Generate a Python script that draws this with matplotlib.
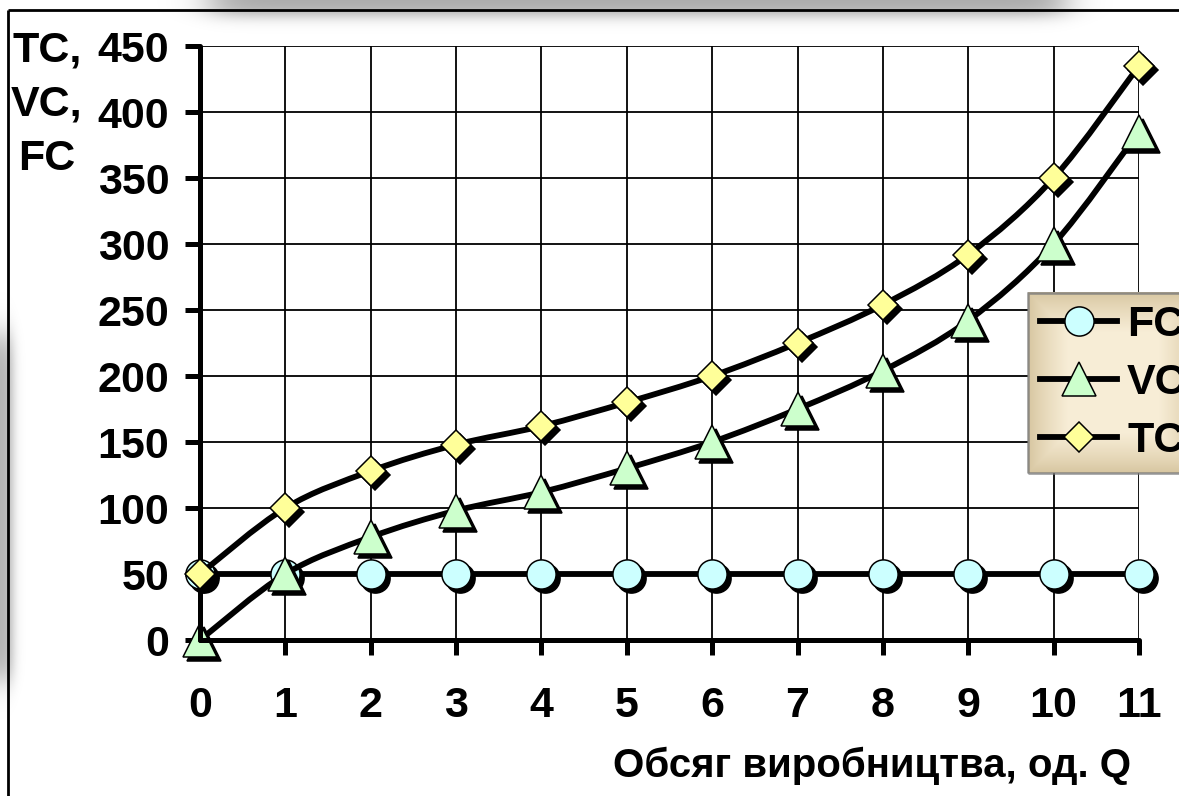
import numpy as np
import matplotlib
matplotlib.use('Agg')
import matplotlib.pyplot as plt
from matplotlib.path import Path
from matplotlib.patches import PathPatch
from matplotlib.lines import Line2D
from matplotlib.transforms import ScaledTranslation, IdentityTransform

# ---------------- data ----------------
q = [0, 1, 2, 3, 4, 5, 6, 7, 8, 9, 10, 11]
fc = [50, 50, 50, 50, 50, 50, 50, 50, 50, 50, 50, 50]
vc = [0, 50, 78, 98, 112, 130, 150, 175, 204, 242, 300, 385]
tc = [50, 100, 128, 148, 162, 180, 200, 225, 254, 292, 350, 435]
y_ticks = [0, 50, 100, 150, 200, 250, 300, 350, 400, 450]
x_ticks = [0, 1, 2, 3, 4, 5, 6, 7, 8, 9, 10, 11]
series_names = ['FC', 'VC', 'TC']
y_label = 'TC,\nVC,\nFC'
x_label = 'Обсяг виробництва, од. Q'

plt.rcParams['font.family'] = ['Liberation Sans', 'DejaVu Sans']
plt.rcParams['font.weight'] = 'bold'
FS = 31

W, H = 1179, 796
fig = plt.figure(figsize=(W / 100, H / 100), dpi=100)
fig.patch.set_facecolor('white')

# ---------------- background: frame + slide shadows ----------------
bg = fig.add_axes([0, 0, 1, 1], zorder=0)
bg.set_xlim(0, W)
bg.set_ylim(H, 0)
bg.axis('off')
xx, yy = np.meshgrid(np.arange(W) + 0.5, np.arange(H) + 0.5)
a_top = 0.33 * 0.5 * (np.tanh((xx - 210) / 24) - np.tanh((xx - 1065) / 22)) \
    * 0.5 * (1 - np.tanh((yy - 16) / 8))
a_left = 0.30 * 0.5 * (1 - np.tanh((xx - 13) / 6)) \
    * 0.5 * (np.tanh((yy - 335) / 20) - np.tanh((yy - 680) / 18))
alpha = 1 - (1 - a_top) * (1 - a_left)
shadow = np.zeros((H, W, 4))
shadow[..., 3] = np.clip(alpha, 0, 1)
bg.imshow(shadow, extent=(0, W, H, 0), aspect='auto', interpolation='bilinear')
bg.plot([8, 8], [10, H + 5], color='black', lw=2.0, solid_capstyle='butt')
bg.plot([8, W + 5], [10, 10], color='black', lw=2.0, solid_capstyle='butt')
bg.set_xlim(0, W)
bg.set_ylim(H, 0)

# ---------------- main axes ----------------
ax = fig.add_axes([200 / W, 1 - 640 / H, 939 / W, 594 / H], zorder=1)
ax.patch.set_visible(False)
ax.set_xlim(0, 11)
ax.set_ylim(0, 450)
ax.set_xticks(x_ticks)
ax.set_yticks(y_ticks)
ax.grid(True, color='black', lw=1.3)
for s in ['top', 'right']:
    ax.spines[s].set_visible(False)
for s in ['left', 'bottom']:
    ax.spines[s].set_linewidth(3.6)
    ax.spines[s].set_capstyle('round')
ax.tick_params(axis='both', direction='out', length=11, width=3.6, labelsize=FS)
ax.tick_params(axis='y', pad=11)
ax.tick_params(axis='x', pad=22)


def smooth_path(xs, ys):
    P = np.column_stack([xs, ys]).astype(float)
    n = len(P)
    verts = [P[0]]
    codes = [Path.MOVETO]
    for i in range(n - 1):
        p0 = P[i - 1] if i > 0 else P[i]
        p1 = P[i]
        p2 = P[i + 1]
        p3 = P[i + 2] if i + 2 < n else P[i + 1]
        verts += [p1 + (p2 - p0) / 6.0, p2 - (p3 - p1) / 6.0, p2]
        codes += [Path.CURVE4] * 3
    return Path(verts, codes)


styles = [
    dict(marker='o', ms=21, mfc='#CCFFFF'),
    dict(marker='^', ms=24, mfc='#CCFFCC'),
    dict(marker='D', ms=15.5, mfc='#FFFF99'),
]
shadow_tr = ax.transData + ScaledTranslation(4 / 100, -4 / 100, fig.dpi_scale_trans)
handles = []
for k, (vals, st) in enumerate(zip([fc, vc, tc], styles)):
    z = 2 + k * 0.3
    patch = PathPatch(smooth_path(q, vals), fill=False, edgecolor='black', lw=4.2,
                      zorder=z, clip_on=False, capstyle='round', joinstyle='round')
    ax.add_patch(patch)
    ax.plot(q, vals, linestyle='none', marker=st['marker'], ms=st['ms'], mfc='black',
            mec='black', mew=1.1, transform=shadow_tr, zorder=z + 0.1, clip_on=False)
    ax.plot(q, vals, linestyle='none', marker=st['marker'], ms=st['ms'], mfc=st['mfc'],
            mec='black', mew=1.1, zorder=z + 0.2, clip_on=False)
    handles.append(Line2D([0], [0], color='black', lw=4.2, marker=st['marker'],
                          ms=st['ms'], mfc=st['mfc'], mec='black', mew=1.1))

leg = ax.legend(handles, series_names, loc='upper left',
                bbox_to_anchor=(1028 / W, 1 - 293 / H), bbox_transform=fig.transFigure,
                borderaxespad=0, fontsize=FS, handlelength=1.79, handletextpad=0.23,
                borderpad=0.28, labelspacing=0.42, fancybox=False, frameon=True,
                edgecolor='#7a7a7a', facecolor='none')
leg.get_frame().set_linewidth(1.8)
for t in leg.get_texts():
    t.set_fontweight('bold')

# axis titles
fig.text(47, H - 31, y_label, transform=IdentityTransform(), ha='center', va='top',
         multialignment='center', fontsize=FS, fontweight='bold', linespacing=1.45)
fig.text(1131, H - 766, x_label, transform=IdentityTransform(), ha='right', va='center',
         fontsize=29, fontweight='bold')

# legend gradient background (drawn beneath legend, above grid)
fig.canvas.draw()
bb = leg.get_frame().get_window_extent()
lw_, lh_ = int(round(bb.width)), int(round(bb.height))
gx, gy = np.meshgrid(np.arange(lw_) + 0.5, np.arange(lh_) + 0.5)
d = np.minimum(np.minimum(gx, lw_ - gx), np.minimum(gy, lh_ - gy))
t = np.clip(d / 40.0, 0, 1) ** 0.8
edge_c = np.array([0.84, 0.77, 0.62])
cent_c = np.array([0.97, 0.93, 0.84])
grad = edge_c[None, None, :] * (1 - t[..., None]) + cent_c[None, None, :] * t[..., None]
ax.imshow(grad, extent=(bb.x0, bb.x1, bb.y0, bb.y1), transform=IdentityTransform(),
          aspect='auto', zorder=4.9, clip_on=False, interpolation='bilinear')
ax.set_xlim(0, 11)
ax.set_ylim(0, 450)

fig.savefig('out.png', dpi=100, facecolor='white')
